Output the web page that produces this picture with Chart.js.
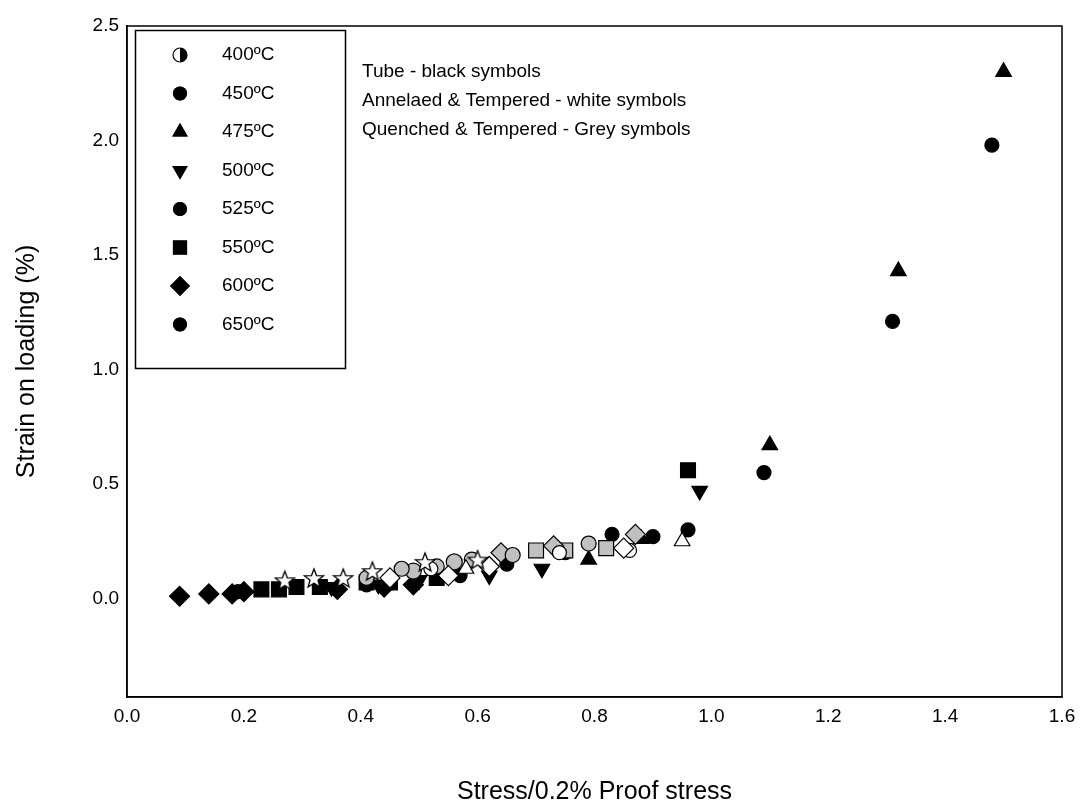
<!DOCTYPE html>
<html><head><meta charset="utf-8">
<script src="https://cdn.jsdelivr.net/npm/chart.js@4"></script>
<style>html,body{margin:0;background:#fff}#wrap{width:1086px;height:809px}</style>
</head><body><div id="wrap"><canvas id="c"></canvas></div>
<script>
const legendTemps = ["400ºC", "450ºC", "475ºC", "500ºC", "525ºC", "550ºC", "600ºC", "650ºC"];
const notes = ["Tube - black symbols", "Annelaed & Tempered - white symbols", "Quenched & Tempered - Grey symbols"];
const yTicks = [0, 0.5, 1.0, 1.5, 2.0, 2.5];

// black (tube)
const blackDiamond = [[0.09,0.01],[0.14,0.02],[0.18,0.02],[0.20,0.03],[0.36,0.04],[0.44,0.05],[0.49,0.06]];
const blackCircle = [[0.19,0.03],[0.41,0.06],[0.57,0.10],[0.65,0.15],[0.75,0.20],[0.83,0.28],[0.90,0.27],[0.96,0.30],[1.09,0.55],[1.31,1.21],[1.48,1.98]];
const blackSquare = [[0.23,0.04],[0.26,0.04],[0.29,0.05],[0.33,0.05],[0.41,0.07],[0.45,0.07],[0.53,0.09],[0.96,0.56]];
const blackDown = [[0.35,0.05],[0.43,0.06],[0.50,0.08],[0.62,0.10],[0.71,0.13],[0.98,0.47]];
const blackUp = [[0.79,0.17],[0.88,0.26],[1.10,0.67],[1.32,1.43],[1.50,2.30]];
// white (annealed & tempered)
const whiteStar = [[0.27,0.08],[0.32,0.09],[0.37,0.09],[0.42,0.12],[0.51,0.16],[0.60,0.17]];
const whiteDiamond = [[0.45,0.09],[0.55,0.10],[0.62,0.14],[0.85,0.22]];
const whiteUp = [[0.58,0.13],[0.95,0.25]];
const whiteCircle = [[0.52,0.13],[0.74,0.20],[0.86,0.21]];
// grey (quenched & tempered)
const greyCircle = [[0.41,0.09],[0.47,0.13],[0.53,0.14],[0.59,0.17],[0.66,0.19],[0.79,0.24]];
const greyDiamond = [[0.64,0.20],[0.73,0.23],[0.87,0.28]];
const greySquare = [[0.70,0.21],[0.75,0.21],[0.82,0.22]];
const greyHex = [[0.49,0.12],[0.56,0.16]];

const FONT = "'Liberation Sans', Arial";
const GREY = "#c0c0c0";

function starImage() {
    const c = document.createElement("canvas");
    c.width = 22; c.height = 22;
    const g = c.getContext("2d");
    g.beginPath();
    for (let i = 0; i < 10; i++) {
        const r = i % 2 ? 4.2 : 10;
        const a = -Math.PI / 2 + i * Math.PI / 5;
        g.lineTo(11 + r * Math.cos(a), 12 + r * Math.sin(a));
    }
    g.closePath();
    g.fillStyle = "#fff"; g.fill();
    g.strokeStyle = "#000"; g.lineWidth = 1.3; g.stroke();
    return c;
}

const pts = a => a.map(([x, y]) => ({x, y}));
function ds(data, style, fill, radius, rot) {
    return {
        data: pts(data), pointStyle: style, pointRotation: rot || 0,
        backgroundColor: fill, borderColor: "#000", borderWidth: 1.2,
        pointRadius: radius, showLine: false
    };
}

const overlay = {
    id: "overlay",
    afterDraw(chart) {
        const ctx = chart.ctx;
        ctx.save();
        ctx.strokeStyle = "#000";
        ctx.lineWidth = 1.5;
        ctx.strokeRect(135.5, 30.5, 210, 338);
        ctx.font = "19px " + FONT;
        ctx.textBaseline = "middle";
        const styles = ["half", "circle", "triangle", "down", "circle", "rect", "rectRot", "circle"];
        const radii = [7, 7, 9, 9, 7, 10, 10, 7];
        legendTemps.forEach((t, i) => {
            const y = 55 + i * 38.5;
            ctx.fillStyle = "#000";
            ctx.fillText(t, 222, y);
            const x = 180;
            ctx.lineWidth = 1.2;
            if (styles[i] === "half") {
                ctx.beginPath(); ctx.arc(x, y, 7, 0, Math.PI * 2); ctx.fillStyle = "#fff"; ctx.fill();
                ctx.stroke();
                ctx.beginPath(); ctx.moveTo(x, y); ctx.arc(x, y, 7, Math.PI / 2, Math.PI * 1.5, true);
                ctx.closePath(); ctx.fillStyle = "#000"; ctx.fill();
            } else {
                ctx.fillStyle = "#000";
                Chart.helpers.drawPoint(ctx, {pointStyle: styles[i] === "down" ? "triangle" : styles[i],
                    radius: radii[i], rotation: styles[i] === "down" ? 180 : 0}, x, y);
                ctx.fill();
            }
        });
        ctx.fillStyle = "#000";
        notes.forEach((n, i) => ctx.fillText(n, 362, 72 + i * 29));
        ctx.restore();
    }
};

new Chart(document.getElementById("c"), {
    type: "scatter",
    data: {
        datasets: [
            ds(whiteStar, starImage(), "#fff", 10),
            ds(whiteDiamond, "rectRot", "#fff", 10),
            ds(whiteUp, "triangle", "#fff", 9),
            ds(whiteCircle, "circle", "#fff", 7),
            ds(greyCircle, "circle", GREY, 7.5),
            ds(greyHex, "circle", GREY, 8),
            ds(greyDiamond, "rectRot", GREY, 10),
            ds(greySquare, "rect", GREY, 10.5),
            ds(blackDiamond, "rectRot", "#000", 10),
            ds(blackSquare, "rect", "#000", 10.5),
            ds(blackDown, "triangle", "#000", 9, 180),
            ds(blackUp, "triangle", "#000", 9),
            ds(blackCircle, "circle", "#000", 7)
        ]
    },
    options: {
        responsive: true, maintainAspectRatio: false, animation: false,
        layout: {padding: {top: 26, right: 24, left: 0, bottom: 0}},
        plugins: {legend: {display: false}, tooltip: {enabled: false}},
        scales: {
            x: {
                min: 0, max: 1.6,
                afterFit: s => { s.height = 112; },
                border: {color: "#000", width: 1.5},
                grid: {display: false, drawTicks: true, tickLength: 5, color: "#000"},
                ticks: {stepSize: 0.2, padding: 3, color: "#000", font: {family: FONT, size: 19},
                    callback: v => v.toFixed(1)},
                title: {display: true, text: "Stress/0.2% Proof stress", color: "#000",
                    font: {family: FONT, size: 25}, padding: {top: 4, bottom: 2}}
            },
            y: {
                min: -0.43, max: 2.5,
                afterFit: s => { s.width = 127; },
                afterBuildTicks: s => { s.ticks = yTicks.map(v => ({value: v})); },
                border: {color: "#000", width: 1.5},
                grid: {display: false, drawTicks: true, tickLength: 5, color: "#000"},
                ticks: {color: "#000", font: {family: FONT, size: 19},
                    callback: v => v.toFixed(1)},
                title: {display: true, text: "Strain on loading (%)", color: "#000",
                    font: {family: FONT, size: 25}, padding: {top: 12, bottom: 0}}
            }
        }
    },
    plugins: [overlay, {
        id: "frame",
        afterDraw(chart) {
            const {ctx, chartArea: a} = chart;
            ctx.save(); ctx.strokeStyle = "#000"; ctx.lineWidth = 1.5;
            ctx.strokeRect(a.left, a.top, a.right - a.left, a.bottom - a.top);
            ctx.restore();
        }
    }]
});
</script></body></html>
